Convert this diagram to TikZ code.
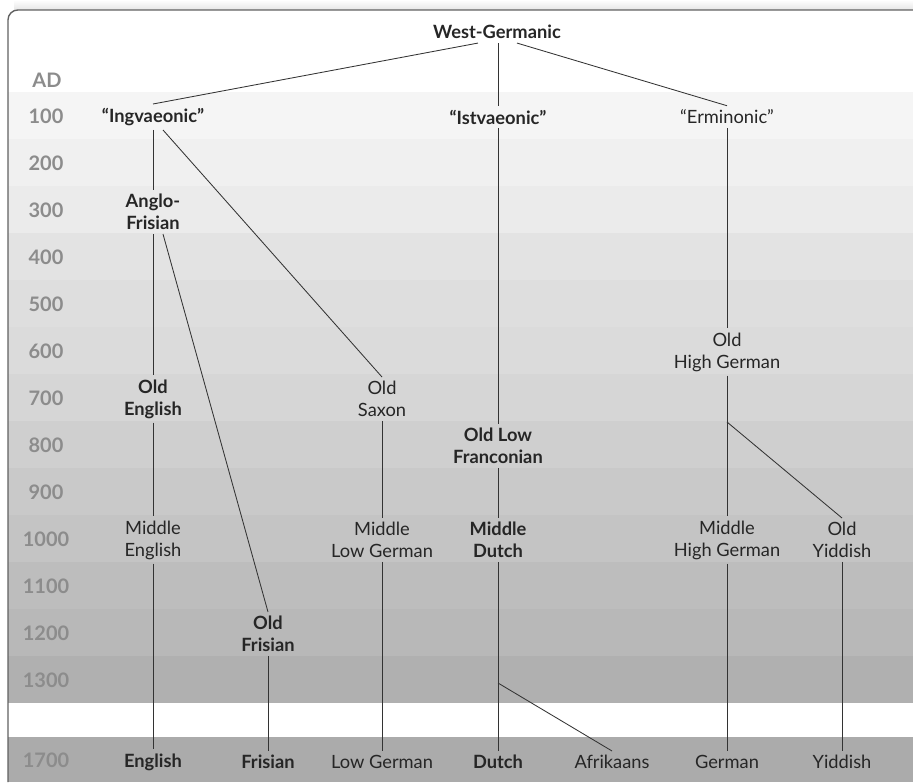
\documentclass[tikz,border=0pt]{standalone}
\usepackage{fontspec}
\setmainfont{Lato}
\usetikzlibrary{positioning, calc}

\begin{document}
\begin{tikzpicture}[
		x=0.025cm, y=-0.025cm,
		% Language names (regular and bold)
		lang/.style={
				font=\fontsize{13pt}{15.6pt}\selectfont, text=black!85,
				align=center, inner sep=3pt, outer sep=0pt
			},
		langbold/.style={lang, font=\fontsize{13pt}{15.6pt}\selectfont\bfseries},
		% Century labels on the left
		yearlab/.style={font=\fontsize{14.2pt}{16pt}\selectfont\bfseries, text=black!45},
		% Connectors
		branch/.style={draw=black!80, line width=0.6pt},
		frameline/.style={draw=black!62, line width=1pt, rounded corners=7}
	]

	\useasboundingbox (0,0) rectangle (913,782);

	% ==========================================
	% 1. FRAME AND CENTURY BANDS
	% ==========================================

	\shade[top color=white, bottom color=black!10] (14,0) rectangle (913,10);
	\fill[white] (8,10) rectangle (913,782);

	% Bands are 47px high, darker towards the bottom
	\fill[black!4]  (8,92)  rectangle (913,139);
	\fill[black!6]  (8,139) rectangle (913,186);
	\fill[black!8]  (8,186) rectangle (913,233);
	\fill[black!11] (8,233) rectangle (913,280);
	\fill[black!13] (8,280) rectangle (913,327);
	\fill[black!14] (8,327) rectangle (913,374);
	\fill[black!16] (8,374) rectangle (913,421);
	\fill[black!19] (8,421) rectangle (913,468);
	\fill[black!21] (8,468) rectangle (913,515);
	\fill[black!23] (8,515) rectangle (913,562);
	\fill[black!26] (8,562) rectangle (913,609);
	\fill[black!28] (8,609) rectangle (913,656);
	\fill[black!31] (8,656) rectangle (913,703);
	% gap in the time line, then the present day
	\fill[black!33] (8,737) rectangle (913,782);

	\draw[frameline] (8,782) -- (8,10) -- (913,10);

	% Century labels
	\node[yearlab] (yrad)   at (47,80)    {AD};
	\node[yearlab] (yr100)  at (46,116) {100};
	\node[yearlab] (yr200)  at (46,163) {200};
	\node[yearlab] (yr300)  at (46,210) {300};
	\node[yearlab] (yr400)  at (46,257) {400};
	\node[yearlab] (yr500)  at (46,304) {500};
	\node[yearlab] (yr600)  at (46,351) {600};
	\node[yearlab] (yr700)  at (46,398) {700};
	\node[yearlab] (yr800)  at (46,445) {800};
	\node[yearlab] (yr900)  at (46,492) {900};
	\node[yearlab] (yr1000) at (46,539) {1000};
	\node[yearlab] (yr1100) at (46,586) {1100};
	\node[yearlab] (yr1200) at (46,633) {1200};
	\node[yearlab] (yr1300) at (46,680) {1300};
	\node[yearlab] (yr1700) at (46,760) {1700};

	% ==========================================
	% 2. LANGUAGES
	% ==========================================

	% Root and the three groups (row 100)
	\node[langbold] (wg)   at (497,32)  {West-Germanic};
	\node[langbold] (ingv) at (153,117) {“Ingvaeonic”};
	\node[langbold] (istv) at (498,117) {“Istvaeonic”};
	\node[lang]     (ermi) at (727,117) {“Erminonic”};

	% Old stages
	\node[langbold] (anglofris) at (153,212) {Anglo-\\Frisian};
	\node[lang]     (ohg)       at (727,352) {Old\\High German};
	\node[langbold] (oldeng)    at (153,399) {Old\\English};
	\node[lang]     (oldsax)    at (382,399) {Old\\Saxon};
	\node[langbold] (olf)       at (498,446) {Old Low\\Franconian};

	% Middle stages (row 1000)
	\node[lang]     (mideng) at (153,540) {Middle\\English};
	\node[lang]     (mlg)    at (382,540) {Middle\\Low German};
	\node[langbold] (mdutch) at (498,540) {Middle\\Dutch};
	\node[lang]     (mhg)    at (727,540) {Middle\\High German};
	\node[lang]     (oyid)   at (842,540) {Old\\Yiddish};
	\node[langbold] (ofris)  at (268,634) {Old\\Frisian};

	% Modern languages (row 1700)
	\node[langbold] (english) at (153,762) {English};
	\node[langbold] (frisian) at (268,762) {Frisian};
	\node[lang]     (lowger)  at (382,762) {Low German};
	\node[langbold] (dutch)   at (498,762) {Dutch};
	\node[lang]     (afrik)   at (612,762) {Afrikaans};
	\node[lang]     (german)  at (727,762) {German};
	\node[lang]     (yiddish) at (842,762) {Yiddish};

	% Split points on the vertical lines
	\coordinate (yidsplit) at (ohg |- 0,422);
	\coordinate (afrsplit) at (mdutch |- 0,683);

	% ==========================================
	% 3. BRANCHES
	% ==========================================

	\draw[branch] ($(wg.south)+(-19,0)$) -- (ingv.north);
	\draw[branch] (wg.south -| istv.north) -- (istv.north);
	\draw[branch] ($(wg.south)+(20,0)$) -- (ermi.north);

	% Ingvaeonic
	\draw[branch] (ingv.south) -- (anglofris.north);
	\draw[branch] ($(ingv.south)+(10,0)$) -- (oldsax.north);
	\draw[branch] (anglofris.south) -- (oldeng.north);
	\draw[branch] ($(anglofris.south)+(10,0)$) -- (ofris.north);
	\draw[branch] (oldeng.south) -- (mideng.north);
	\draw[branch] (mideng.south) -- (english.north);
	\draw[branch] (ofris.south) -- (frisian.north);
	\draw[branch] (oldsax.south) -- (mlg.north);
	\draw[branch] (mlg.south) -- (lowger.north);

	% Istvaeonic
	\draw[branch] (istv.south) -- (olf.north);
	\draw[branch] (olf.south) -- (mdutch.north);
	\draw[branch] (mdutch.south) -- (dutch.north);
	\draw[branch] (afrsplit) -- (afrik.north);

	% Erminonic
	\draw[branch] (ermi.south) -- (ohg.north);
	\draw[branch] (ohg.south) -- (mhg.north);
	\draw[branch] (yidsplit) -- (oyid.north);
	\draw[branch] (mhg.south) -- (german.north);
	\draw[branch] (oyid.south) -- (yiddish.north);

\end{tikzpicture}
\end{document}
